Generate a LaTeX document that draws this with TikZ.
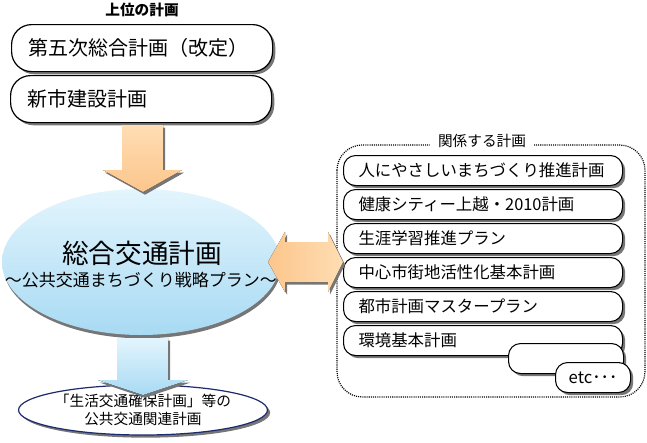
\documentclass[tikz,border=0pt]{standalone}
\usepackage{fontspec}
\newfontfamily\jpfont{Noto Sans CJK JP}
\usetikzlibrary{shapes.geometric,shadows}
\definecolor{ink}{HTML}{000000}
\definecolor{shade}{HTML}{767676}
\definecolor{peach}{HTML}{FCC68C}
\definecolor{peachhi}{HTML}{FFDDB3}
\definecolor{sky}{HTML}{A8DAF3}
\definecolor{skyhi}{HTML}{E3F5FD}
\definecolor{navy}{HTML}{1C2A6E}

\begin{document}
\begin{tikzpicture}[x=0.75pt,y=-0.75pt,font=\jpfont,text=ink,
 drop/.style={drop shadow={shadow xshift=2pt,shadow yshift=-2pt,fill=shade,opacity=1}},
 plan/.style={draw=ink,line width=0.9pt,rounded corners=15pt,fill=white,anchor=north west,
   inner xsep=12.75pt,inner ysep=0pt,text width=170.25pt,minimum height=35.25pt,align=left,drop,
   font=\jpfont\fontsize{15pt}{18pt}\selectfont},
 relplan/.style={draw=ink,line width=0.8pt,rounded corners=9pt,fill=white,anchor=north west,
   inner xsep=11.25pt,inner ysep=0pt,text width=186.75pt,minimum height=22.5pt,align=left,drop,
   font=\jpfont\fontsize{12.3pt}{15pt}\selectfont},
 blockarrow/.style={drop shadow={shadow xshift=1.5pt,shadow yshift=-2pt,fill=shade,opacity=1}}]
\path[use as bounding box] (0,0) rectangle (647,443);
% higher-level plans
\node[font=\jpfont\bfseries\fontsize{11pt}{13pt}\selectfont] (upper) at (142,10) {上位の計画};
\node[plan] (fifth) at (11,24) {第五次総合計画（改定）};
\node[plan] (newcity) at (10,75) {新市建設計画};
% the comprehensive transport plan
\node[ellipse,minimum width=208.5pt,minimum height=109.5pt,inner sep=0pt,top color=skyhi,bottom color=sky,
  drop shadow={shadow xshift=1pt,shadow yshift=-2.5pt,fill=shade,opacity=1}] (main) at (141,262) {};
\node[font=\jpfont\fontsize{20pt}{24pt}\selectfont] (maintitle) at (142,253) {総合交通計画};
\node[font=\jpfont\fontsize{12.75pt}{15pt}\selectfont] (mainsub) at (141,280) {～公共交通まちづくり戦略プラン～};
\fill[top color=peachhi,bottom color=peach,blockarrow] (122,125)--(163,125)--(163,170)--(182,170)--(143,192)--(103,170)--(122,170)--cycle;
% related plans
\draw[dash pattern=on 0.8pt off 0.8pt,line width=0.9pt,rounded corners=19pt] (337,145) rectangle (645,397);
\node[fill=white,inner xsep=6pt,inner ysep=1pt,font=\jpfont\fontsize{11pt}{13pt}\selectfont] (related) at (482,141) {関係する計画};
\foreach \txt [count=\k] in {人にやさしいまちづくり推進計画,健康シティー上越・2010計画,生涯学習推進プラン,中心市街地活性化基本計画,都市計画マスタープラン,環境基本計画}
  \node[relplan] (rel\k) at (343,{155+34*(\k-1)}) {\txt};
\node[relplan,text width=63.75pt,inner xsep=0pt,minimum width=86.25pt] (blank) at (508,343) {};
\node[relplan,text width=56.25pt,inner xsep=0pt,align=center,font=\jpfont\fontsize{12.5pt}{15pt}\selectfont] (etc) at (555,362) {etc･･･};
\fill[left color=peach,right color=peachhi,blockarrow] (268,262)--(285,232)--(285,242)--(328,242)--(328,232)--(343,262)--(328,292)--(328,282)--(285,282)--(285,292)--cycle;
% transport-related plans below
\node[ellipse,draw=navy,line width=0.9pt,fill=white,minimum width=154.5pt,minimum height=37.5pt,inner sep=0pt,
  align=center,drop,font=\jpfont\fontsize{11pt}{13.5pt}\selectfont] (local) at (143,410) {「生活交通確保計画」等の\\公共交通関連計画};
\fill[top color=skyhi,bottom color=sky,blockarrow] (117,338)--(168,338)--(168,380)--(188,380)--(143,395)--(98,380)--(117,380)--cycle;
\end{tikzpicture}
\end{document}
